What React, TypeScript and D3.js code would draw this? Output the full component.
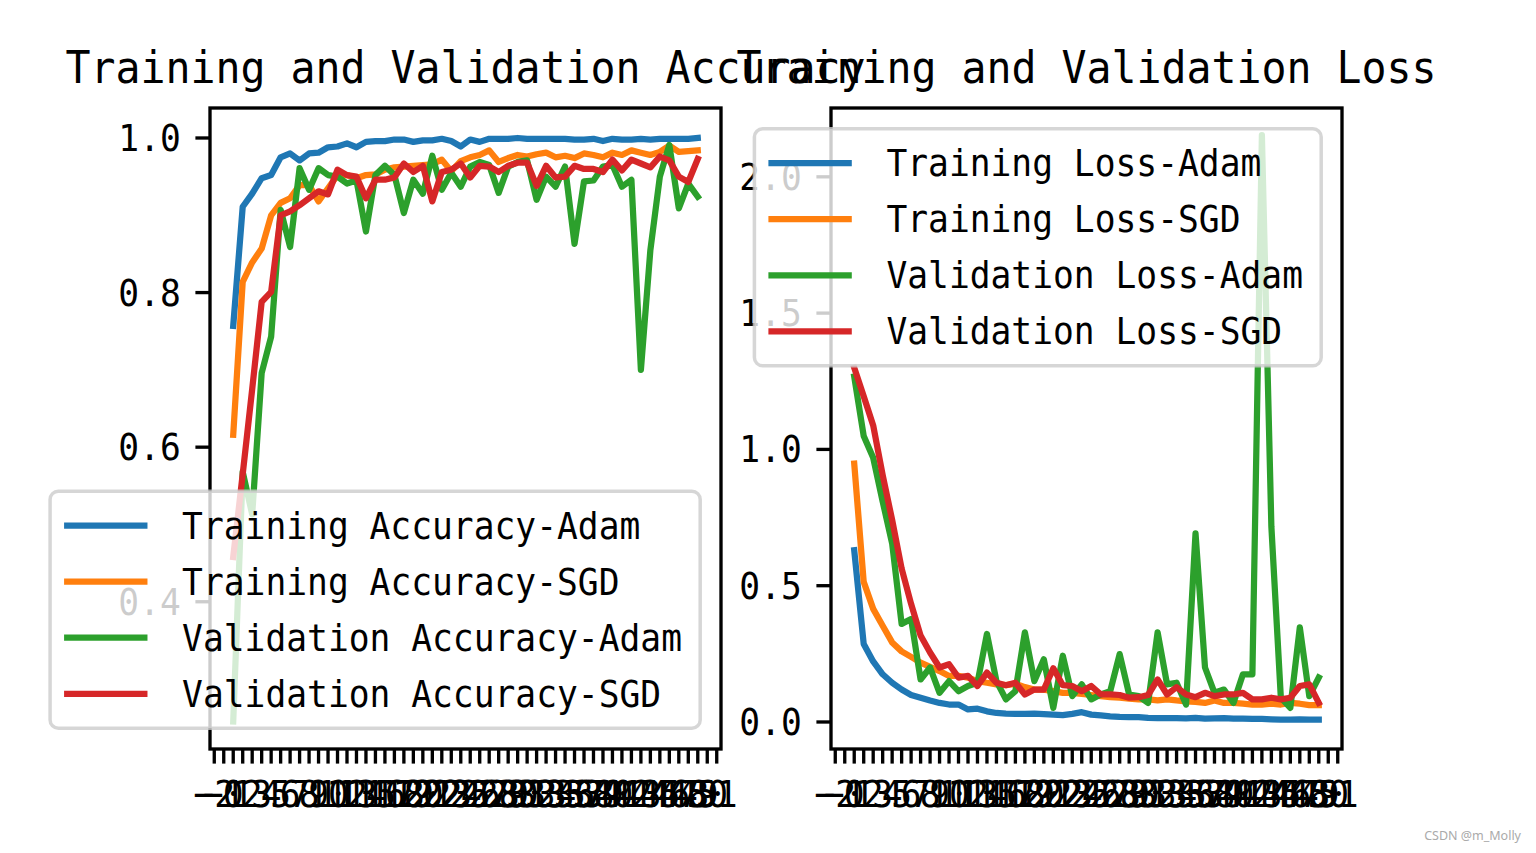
import * as d3 from 'd3';
import React from 'react';

// epochs 0..49 (x index), ticks shown from -2 to 51
const epochs = d3.range(0, 50);
const xTickValues = d3.range(-2, 52);

const accTrainAdam = [0.757, 0.911, 0.928, 0.948, 0.952, 0.975, 0.980, 0.971, 0.980, 0.981,
  0.988, 0.989, 0.993, 0.988, 0.995, 0.996, 0.996, 0.998, 0.998, 0.995,
  0.997, 0.997, 0.999, 0.996, 0.989, 0.998, 0.995, 0.999, 0.999, 0.999,
  1.000, 0.999, 0.999, 0.999, 0.999, 0.999, 0.998, 0.998, 0.999, 0.996,
  0.999, 0.998, 0.998, 0.999, 0.998, 0.999, 0.999, 0.999, 0.999, 1.000];
const accTrainSGD = [0.616, 0.814, 0.839, 0.857, 0.900, 0.916, 0.922, 0.939, 0.939, 0.918,
  0.935, 0.952, 0.952, 0.948, 0.952, 0.953, 0.959, 0.962, 0.963, 0.964,
  0.965, 0.966, 0.972, 0.957, 0.970, 0.975, 0.978, 0.984, 0.969, 0.974,
  0.978, 0.976, 0.979, 0.981, 0.975, 0.977, 0.974, 0.980, 0.978, 0.975,
  0.981, 0.978, 0.984, 0.981, 0.978, 0.982, 0.990, 0.982, 0.983, 0.984];
const accValAdam = [0.245, 0.568, 0.513, 0.696, 0.743, 0.907, 0.859, 0.961, 0.933, 0.961,
  0.952, 0.950, 0.941, 0.945, 0.879, 0.952, 0.964, 0.952, 0.903, 0.946,
  0.928, 0.977, 0.933, 0.955, 0.937, 0.963, 0.969, 0.965, 0.929, 0.963,
  0.969, 0.971, 0.920, 0.950, 0.937, 0.963, 0.863, 0.944, 0.945, 0.963,
  0.965, 0.937, 0.946, 0.700, 0.855, 0.950, 0.991, 0.909, 0.941, 0.924];
const accValSGD = [0.458, 0.565, 0.675, 0.788, 0.801, 0.900, 0.905, 0.913, 0.922, 0.931,
  0.927, 0.959, 0.952, 0.950, 0.922, 0.946, 0.946, 0.949, 0.967, 0.956,
  0.964, 0.918, 0.956, 0.959, 0.967, 0.949, 0.964, 0.963, 0.956, 0.964,
  0.968, 0.968, 0.938, 0.964, 0.949, 0.950, 0.964, 0.960, 0.960, 0.956,
  0.972, 0.958, 0.972, 0.967, 0.962, 0.976, 0.971, 0.950, 0.943, 0.973];

const lossTrainAdam = [0.630, 0.286, 0.222, 0.175, 0.144, 0.119, 0.099, 0.089, 0.079, 0.070,
  0.064, 0.064, 0.046, 0.049, 0.039, 0.033, 0.031, 0.030, 0.030, 0.031,
  0.029, 0.027, 0.025, 0.030, 0.036, 0.027, 0.024, 0.021, 0.019, 0.018,
  0.018, 0.015, 0.014, 0.014, 0.014, 0.013, 0.015, 0.012, 0.013, 0.014,
  0.012, 0.012, 0.011, 0.011, 0.010, 0.009, 0.009, 0.010, 0.009, 0.009];
const lossTrainSGD = [0.948, 0.514, 0.415, 0.353, 0.292, 0.259, 0.239, 0.218, 0.202, 0.187,
  0.169, 0.169, 0.163, 0.150, 0.144, 0.138, 0.135, 0.140, 0.128, 0.119,
  0.119, 0.113, 0.107, 0.107, 0.103, 0.099, 0.095, 0.091, 0.089, 0.086,
  0.083, 0.083, 0.079, 0.083, 0.079, 0.076, 0.074, 0.070, 0.079, 0.070,
  0.070, 0.067, 0.064, 0.064, 0.067, 0.064, 0.070, 0.067, 0.062, 0.062];
const lossValAdam = [1.267, 1.049, 0.969, 0.809, 0.655, 0.360, 0.378, 0.156, 0.200, 0.107,
  0.150, 0.113, 0.132, 0.144, 0.323, 0.150, 0.083, 0.113, 0.329, 0.150,
  0.230, 0.052, 0.243, 0.095, 0.138, 0.083, 0.101, 0.113, 0.249, 0.101,
  0.095, 0.070, 0.329, 0.138, 0.144, 0.064, 0.692, 0.200, 0.107, 0.119,
  0.070, 0.175, 0.175, 2.153, 0.717, 0.089, 0.052, 0.347, 0.095, 0.163];
const lossValSGD = [1.300, 1.195, 1.088, 0.906, 0.741, 0.563, 0.433, 0.317, 0.255, 0.200,
  0.212, 0.163, 0.169, 0.132, 0.181, 0.144, 0.135, 0.144, 0.101, 0.119,
  0.119, 0.197, 0.135, 0.132, 0.113, 0.132, 0.101, 0.101, 0.099, 0.089,
  0.091, 0.099, 0.156, 0.101, 0.128, 0.101, 0.091, 0.107, 0.095, 0.101,
  0.101, 0.107, 0.083, 0.083, 0.089, 0.083, 0.089, 0.132, 0.138, 0.070];

const accLabels = ['Training Accuracy-Adam', 'Training Accuracy-SGD', 'Validation Accuracy-Adam', 'Validation Accuracy-SGD'];
const lossLabels = ['Training Loss-Adam', 'Training Loss-SGD', 'Validation Loss-Adam', 'Validation Loss-SGD'];
const accTicks = [0.4, 0.6, 0.8, 1.0];
const lossTicks = [0.0, 0.5, 1.0, 1.5, 2.0];
const colors = ['#1f77b4', '#ff7f0e', '#2ca02c', '#d62728'];

const FONT = '"DejaVu Sans Mono", monospace';
const ADV = 20.83;   // half-width char advance, 10pt @300dpi
const TADV = 25;     // title char advance, 12pt
const LW = 3.33;     // 0.8pt
const TICK = 14.6;

function Txt({ x, y, text, size, adv, anchor, dy, fill }: any) {
  return (
    <text x={x} y={y} dy={dy || 0} fontFamily={FONT} fontSize={size}
      textLength={text.length * adv} lengthAdjust="spacingAndGlyphs"
      textAnchor={anchor || 'start'} fill={fill || '#000'}>{text}</text>
  );
}

const minus = (v: number) => String(v).replace('-', '\u2212');

function Panel({ left, right, top, bottom, yDomain, yTicks, series, labels, title, legendLoc }: any) {
  const x = d3.scaleLinear().domain([-2.45, 51.45]).range([left, right]);
  const y = d3.scaleLinear().domain(yDomain).range([bottom, top]);
  const line = d3.line<number>().x((d, i) => x(epochs[i])).y(d => y(d));
  const clipId = 'clip' + left;

  // legend box (matplotlib metrics at 10pt)
  const maxChars = d3.max(labels, (l: string) => l.length) as number;
  const lw = 16.7 + 83.4 + 33.4 + maxChars * ADV + 16.7;
  const lh = 237;
  const lx = right - 20.8 - lw;
  const ly = legendLoc === 'upper right' ? top + 20.8 : bottom - 20.8 - lh;

  return (
    <g>
      <defs>
        <clipPath id={clipId}><rect x={left} y={top} width={right - left} height={bottom - top} /></clipPath>
      </defs>
      <g clipPath={`url(#${clipId})`}>
        {series.map((s: number[], k: number) => (
          <path key={k} d={line(s) || ''} fill="none" stroke={colors[k]} strokeWidth={6.25}
            strokeLinejoin="round" strokeLinecap="square" />
        ))}
      </g>
      {/* y axis */}
      {yTicks.map((t: number) => (
        <g key={t}>
          <line x1={left - TICK} x2={left} y1={y(t)} y2={y(t)} stroke="#000" strokeWidth={LW} />
          <Txt x={left - 2 * TICK} y={y(t)} dy={13} text={d3.format('.1f')(t)} size={38} adv={ADV} anchor="end" />
        </g>
      ))}
      {/* x axis */}
      {xTickValues.map((t: number) => (
        <g key={t}>
          <line x1={x(t)} x2={x(t)} y1={bottom} y2={bottom + TICK} stroke="#000" strokeWidth={LW} />
          <Txt x={x(t)} y={bottom + 2 * TICK + 29} text={minus(t)} size={38} adv={ADV} anchor="middle" />
        </g>
      ))}
      <rect x={left} y={top} width={right - left} height={bottom - top} fill="none" stroke="#000" strokeWidth={LW} />
      <Txt x={(left + right) / 2} y={top - 25} text={title} size={45} adv={TADV} anchor="middle" />
      {/* legend */}
      <rect x={lx} y={ly} width={lw} height={lh} rx={8.3} ry={8.3} fill="#fff" fillOpacity={0.8}
        stroke="#cccccc" strokeOpacity={0.8} strokeWidth={3.5} />
      {labels.map((l: string, k: number) => {
        const cy = ly + 34.3 + k * 56.1;
        return (
          <g key={l}>
            <line x1={lx + 14} x2={lx + 14 + 83.4} y1={cy} y2={cy} stroke={colors[k]} strokeWidth={6.25} />
            <Txt x={lx + 132} y={cy} dy={13} text={l} size={38} adv={ADV} />
          </g>
        );
      })}
    </g>
  );
}

export default function App() {
  return (
    <svg width={1536} height={853} style={{ position: 'absolute', left: 0, top: 0, background: '#fff' }}>
      <rect width={1536} height={853} fill="#fff" />
      <Panel left={210} right={721} top={108} bottom={749} yDomain={[0.2095, 1.0388]} yTicks={accTicks}
        series={[accTrainAdam, accTrainSGD, accValAdam, accValSGD]} labels={accLabels}
        title="Training and Validation Accuracy" legendLoc="lower right" />
      <Panel left={831} right={1342} top={108} bottom={749} yDomain={[-0.0991, 2.2525]} yTicks={lossTicks}
        series={[lossTrainAdam, lossTrainSGD, lossValAdam, lossValSGD]} labels={lossLabels}
        title="Training and Validation Loss" legendLoc="upper right" />
      <text x={1521} y={840} textAnchor="end" fontFamily="Noto Sans, sans-serif" fontSize={12.5} fill="#aaa">CSDN @m_Molly</text>
    </svg>
  );
}
